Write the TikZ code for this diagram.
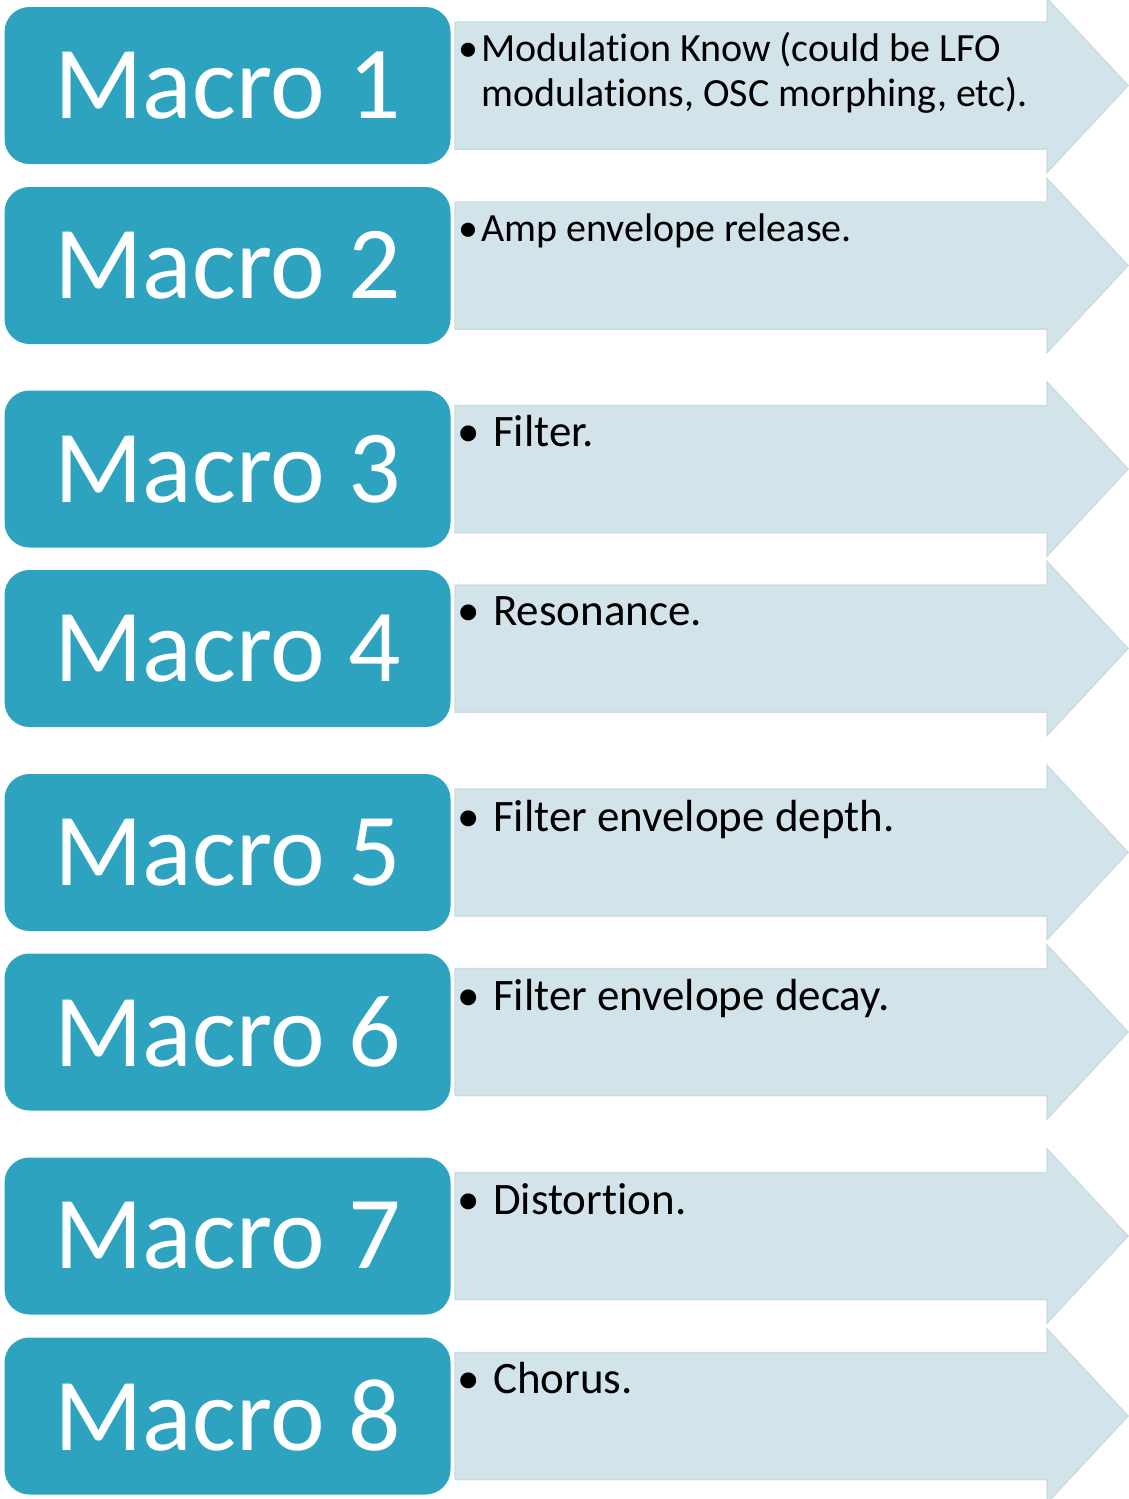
\documentclass[tikz,border=0pt]{standalone}
\usepackage{fontspec}
\setmainfont[Ligatures=NoCommon]{Carlito}
\definecolor{boxteal}{HTML}{2EA3C0}
\definecolor{arrowfill}{HTML}{D2E3EA}
\definecolor{arrowline}{HTML}{CADDE5}
\begin{document}
\begin{tikzpicture}[x=1pt,y=-1pt,
  macrobox/.style={fill=boxteal, draw=none, rounded corners=25pt, minimum width=446pt, minimum height=157pt, inner sep=0pt, text=white, font=\fontsize{103.5}{110}\selectfont},
  arrowshape/.style={fill=arrowfill, draw=arrowline, line width=1.5pt},
  bullettext/.style={anchor=base west, inner sep=0pt, font=\fontsize{45}{47}\selectfont, text=black},
  smallbullettext/.style={bullettext, font=\fontsize{40}{44}\selectfont}]
\useasboundingbox (0,0) rectangle (1128,1499);
\foreach \i/\c in {1/85.5,2/265.5,3/469,4/648.5,5/852.5,6/1032,7/1236,8/1416}{
  \draw[arrowshape] (455,{\c-63.5}) -- (1047,{\c-63.5}) -- (1047,{\c-87}) -- (1128,\c) -- (1047,{\c+87}) -- (1047,{\c+63.5}) -- (455,{\c+63.5}) -- cycle;
  \node[macrobox] (m\i) at (227.5,\c) {Macro \i};
}
\node[smallbullettext] (t1) at (458,61) {\makebox[23pt][l]{•}Modulation Know (could be LFO};
\node[smallbullettext] (t1b) at (481,106) {modulations, OSC morphing, etc).};
\node[smallbullettext] (t2) at (458,241) {\makebox[23pt][l]{•}Amp envelope release.};
\node[bullettext] (t3) at (457,446) {\makebox[36pt][l]{•}Filter.};
\node[bullettext] (t4) at (457,625) {\makebox[36pt][l]{•}Resonance.};
\node[bullettext] (t5) at (457,831) {\makebox[36pt][l]{•}Filter envelope depth.};
\node[bullettext] (t6) at (457,1010) {\makebox[36pt][l]{•}Filter envelope decay.};
\node[bullettext] (t7) at (457,1214) {\makebox[36pt][l]{•}Distortion.};
\node[bullettext] (t8) at (457,1393) {\makebox[36pt][l]{•}Chorus.};
\end{tikzpicture}
\end{document}
